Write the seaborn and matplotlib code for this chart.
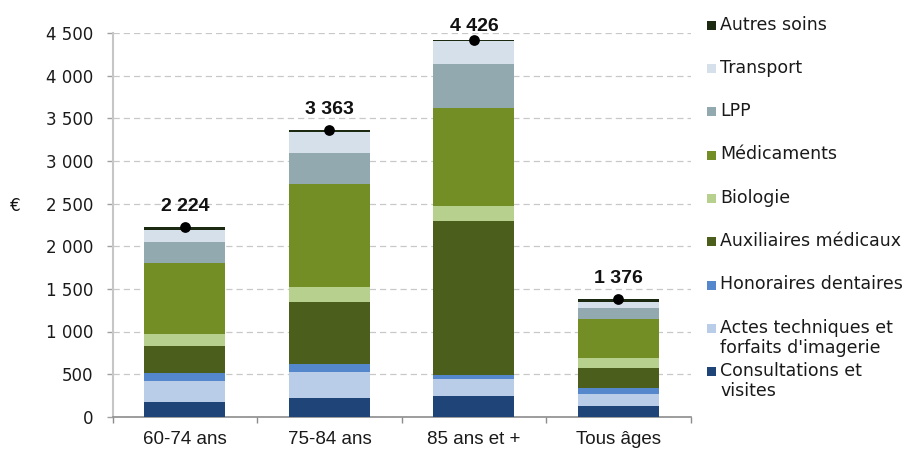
import matplotlib
matplotlib.use("Agg")
import matplotlib.pyplot as plt
from matplotlib.patches import Rectangle
from matplotlib.ticker import FuncFormatter, FixedLocator
import numpy as np
import seaborn as sns

# Dépense moyenne par personne et par poste de soins (en euros)
categories = ["60-74 ans", "75-84 ans", "85 ans et +", "Tous âges"]

consultations = [176, 216, 246, 122]
actes_techniques = [246, 312, 196, 144]
honoraires_dentaires = [87, 91, 51, 71]
auxiliaires = [321, 724, 1807, 231]
biologie = [141, 176, 177, 124]
medicaments = [829, 1209, 1150, 455]
lpp = [247, 367, 509, 125]
transport = [144, 243, 270, 71]
autres_soins = [33, 25, 20, 33]

series_labels = [
    "Consultations et\nvisites",
    "Actes techniques et\nforfaits d'imagerie",
    "Honoraires dentaires",
    "Auxiliaires médicaux",
    "Biologie",
    "Médicaments",
    "LPP",
    "Transport",
    "Autres soins",
]
series_values = [consultations, actes_techniques, honoraires_dentaires, auxiliaires,
                 biologie, medicaments, lpp, transport, autres_soins]
series_colors = ["#1F4477", "#B9CDE9", "#5587CD", "#4B5E1C", "#B8D08E",
                 "#728E24", "#92A9AF", "#D6E0EA", "#1B2A10"]

y_ticks = [0, 500, 1000, 1500, 2000, 2500, 3000, 3500, 4000, 4500]

sns.set_style("white")
plt.rcParams["font.family"] = ["DejaVu Sans"]

W, H = 908, 450
fig = plt.figure(figsize=(W / 100, H / 100), dpi=100)
ax = fig.add_axes([112.7 / W, 1 - 416.7 / H, 578.0 / W, 383.4 / H])

# Stacked bars, one seaborn call per poste
bottom = np.zeros(len(categories))
for vals, col in zip(series_values, series_colors):
    sns.barplot(x=categories, y=vals, order=categories, bottom=bottom, color=col,
                saturation=1, width=0.56, linewidth=0, errorbar=None, ax=ax, zorder=3)
    bottom = bottom + np.asarray(vals)
totals = bottom

# Total markers
sns.scatterplot(x=categories, y=totals, color="black", s=60, edgecolor="black",
                linewidth=0, zorder=5, ax=ax, legend=False)

ax.set_xlim(-0.5, len(categories) - 0.5)
ax.set_ylim(0, 4500)
ax.set_xlabel("")
ax.set_ylabel("")

fmt = lambda v, pos=None: f"{int(round(v)):,}".replace(",", " ")
ax.yaxis.set_major_locator(FixedLocator(y_ticks))
ax.yaxis.set_major_formatter(FuncFormatter(fmt))

ax.yaxis.grid(True, linestyle=(0, (5, 3.2)), color="#C8C8C8", linewidth=0.9, zorder=0)
ax.xaxis.grid(False)
ax.set_axisbelow(True)

for s in ["top", "right"]:
    ax.spines[s].set_visible(False)
ax.spines["left"].set_color("#C6C6C6")
ax.spines["left"].set_linewidth(1.5)
ax.spines["bottom"].set_color("#8C8C8C")
ax.spines["bottom"].set_linewidth(1.2)

ax.tick_params(axis="y", which="major", left=True, length=4.5, width=1, color="#A0A0A0",
               pad=9.5, labelsize=12, labelcolor="#1A1A1A")
ax.set_xticks(range(len(categories)))
ax.set_xticklabels(categories, fontfamily="Liberation Sans", fontsize=13.5, color="#1A1A1A")
ax.set_xticks(np.arange(-0.5, len(categories), 1.0), minor=True)
ax.tick_params(axis="x", which="major", bottom=False, length=0, pad=10.5)
ax.tick_params(axis="x", which="minor", bottom=True, length=4.5, width=1, color="#8C8C8C")

# Unit label
fig.text(15 / W, 1 - 206 / H, "€", ha="center", va="center", fontsize=12, color="#111111")

# Total labels above each bar, kept inside the figure
fig.canvas.draw()
cap_px = H - 30.7
for i, t in enumerate(totals):
    xd, yd = ax.transData.transform((i, t))
    yb = min(yd + 16.5, cap_px)
    fig.text(xd / W, yb / H, fmt(t), ha="center", va="baseline", fontsize=14,
             fontweight="bold", fontfamily="Liberation Sans", color="#111111")

# Legend column (top to bottom: last poste first)
first_line_y = 25.3
step = 43.3
for k, (lab, col) in enumerate(zip(series_labels[::-1], series_colors[::-1])):
    yc = first_line_y + k * step
    fig.patches.append(Rectangle(((711.3 - 4.5) / W, 1 - (yc + 4.5) / H), 9 / W, 9 / H,
                                 transform=fig.transFigure, facecolor=col,
                                 edgecolor="none", figure=fig))
    fig.text(720 / W, 1 - (yc - 9.8) / H, lab, ha="left", va="top", fontsize=12.5,
             color="#1A1A1A", linespacing=1.15)

fig.savefig("out.png", dpi=100)
